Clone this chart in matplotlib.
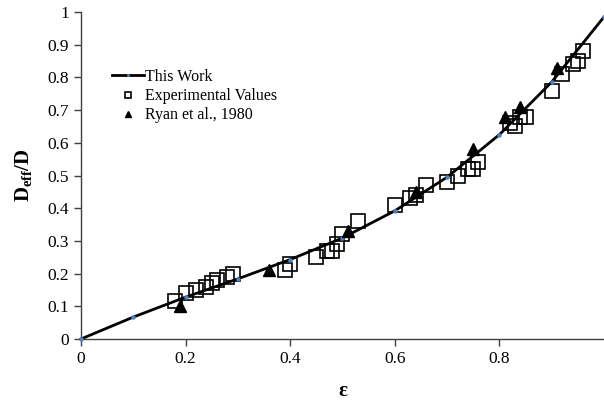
import numpy as np
import matplotlib.pyplot as plt

plt.rcParams['font.family'] = ['Liberation Serif', 'DejaVu Serif']
plt.rcParams['mathtext.fontset'] = 'custom'
plt.rcParams['mathtext.rm'] = 'Liberation Serif'
plt.rcParams['mathtext.bf'] = 'Liberation Serif:bold'

# model curve (This Work)
eps_model = [0.0, 0.1, 0.2, 0.3, 0.4, 0.5, 0.6, 0.7, 0.8, 0.9, 1.0]
d_model = [0.0, 0.067, 0.128, 0.184, 0.243, 0.309, 0.392, 0.495, 0.625, 0.786, 0.985]

# experimental values
eps_exp = [0.18, 0.20, 0.22, 0.24, 0.25, 0.26, 0.28, 0.29, 0.39, 0.40, 0.45, 0.47,
           0.48, 0.49, 0.50, 0.53, 0.60, 0.63, 0.64, 0.66, 0.70, 0.72, 0.74, 0.75,
           0.76, 0.82, 0.83, 0.84, 0.85, 0.90, 0.92, 0.94, 0.95, 0.96]
d_exp = [0.115, 0.14, 0.15, 0.16, 0.17, 0.18, 0.19, 0.20, 0.21, 0.23, 0.25, 0.27,
         0.27, 0.29, 0.32, 0.36, 0.41, 0.43, 0.44, 0.47, 0.48, 0.50, 0.52, 0.52,
         0.54, 0.66, 0.65, 0.68, 0.68, 0.76, 0.81, 0.84, 0.85, 0.88]

# Ryan et al., 1980
eps_ryan = [0.19, 0.36, 0.51, 0.64, 0.75, 0.81, 0.84, 0.91]
d_ryan = [0.10, 0.21, 0.33, 0.45, 0.58, 0.68, 0.71, 0.83]

fig = plt.figure(figsize=(6.04, 4.01), dpi=100)
ax = fig.add_axes([0.134, 0.1546, 0.866, 0.8154])

ax.plot(eps_model, d_model, color='black', lw=2.0, marker='o', ms=2.2,
        mfc='#4f81bd', mec='#4f81bd', label='This Work', clip_on=False, zorder=3)
ax.plot(eps_exp, d_exp, ls='none', marker='s', ms=9.5, mfc='none', mec='black',
        mew=1.2, label='Experimental Values', zorder=2)
ax.plot(eps_ryan, d_ryan, ls='none', marker='^', ms=9, color='black',
        label='Ryan et al., 1980', zorder=4)

ax.set_xlim(0, 1)
ax.set_ylim(0, 1)
ax.set_xticks([0, 0.2, 0.4, 0.6, 0.8])
ax.set_xticklabels(['0', '0.2', '0.4', '0.6', '0.8'])
ax.set_yticks(np.arange(0, 1.01, 0.1))
ax.set_yticklabels(['0', '0.1', '0.2', '0.3', '0.4', '0.5', '0.6', '0.7', '0.8', '0.9', '1'])
ax.tick_params(direction='out', length=5, width=1, labelsize=12.5, color='#404040')
ax.spines['top'].set_visible(False)
ax.spines['right'].set_visible(False)
for s in ['left', 'bottom']:
    ax.spines[s].set_color('#404040')
    ax.spines[s].set_linewidth(1.0)

ax.set_xlabel('ε', fontsize=15, fontweight='bold', labelpad=10)
ax.set_ylabel(r'$\mathbf{D_{eff}/D}$', fontsize=15, labelpad=10)

ax.legend(loc='upper left', bbox_to_anchor=(0.185, 0.828), bbox_transform=fig.transFigure,
          frameon=False, fontsize=11.5, markerscale=0.5, handlelength=2.0,
          handletextpad=0.1, labelspacing=0.2, borderpad=0, borderaxespad=0)

fig.savefig('out.png', dpi=100)
